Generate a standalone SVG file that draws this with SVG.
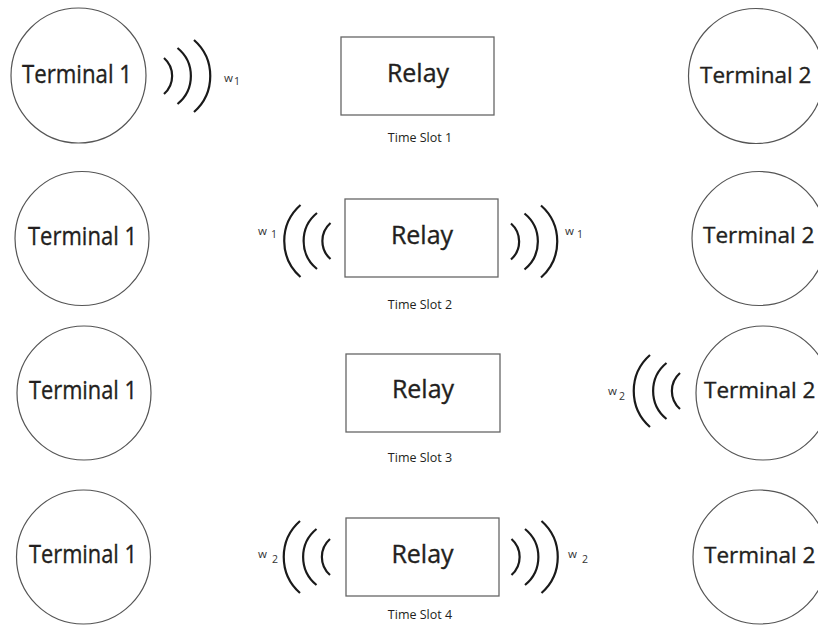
<svg xmlns="http://www.w3.org/2000/svg" xmlns:xlink="http://www.w3.org/1999/xlink" width="818" height="627" viewBox="0 0 818 627">
<style>
.term{fill:#fff;stroke:#555;stroke-width:1.2}
.box{fill:#fff;stroke:#666;stroke-width:1.3}
.big{font-family:"Open Sans","Noto Sans",sans-serif;font-size:25px;fill:#231f20;stroke:#231f20;stroke-width:0.35}
.t2{font-size:22.5px}
.slot{font-family:"Open Sans","Noto Sans",sans-serif;font-size:12.5px;fill:#231f20;text-anchor:middle}
.lbl{font-family:"Open Sans","Noto Sans",sans-serif;font-size:11.5px;fill:#333}
.sub{font-size:10.5px}
.wave{fill:none;stroke:#1a1a1a;stroke-width:2.2}
</style>
<defs>
<g id="waves" class="wave">
<path d="M0,-18 A24,24 0 0 1 0,18"/>
<path d="M13.5,-28 A36,36 0 0 1 13.5,28"/>
<path d="M30,-36 A48,48 0 0 1 30,36"/>
</g>
</defs>
<rect width="818" height="627" fill="#fff"/>

<!-- Row 1 -->
<g id="t1-slot1"><circle class="term" cx="78.5" cy="75.5" r="67.5"/><text class="big" x="22" y="83" textLength="110" lengthAdjust="spacingAndGlyphs">Terminal 1</text></g>
<g id="relay-slot1"><rect class="box" x="341" y="37" width="153" height="78"/><text class="big" x="418" y="82" text-anchor="middle">Relay</text><text class="slot" x="420" y="142">Time Slot 1</text></g>
<g id="t2-slot1"><circle class="term" cx="756" cy="76" r="67.5"/><text class="big t2" x="700" y="83">Terminal 2</text></g>

<!-- Row 2 -->
<g id="t1-slot2"><circle class="term" cx="82" cy="238.5" r="67"/><text class="big" x="28" y="245" textLength="109" lengthAdjust="spacingAndGlyphs">Terminal 1</text></g>
<g id="relay-slot2"><rect class="box" x="345" y="199" width="153" height="78"/><text class="big" x="422" y="244" text-anchor="middle">Relay</text><text class="slot" x="420" y="309">Time Slot 2</text></g>
<g id="t2-slot2"><circle class="term" cx="759" cy="238.5" r="67"/><text class="big t2" x="703" y="243">Terminal 2</text></g>

<!-- Row 3 -->
<g id="t1-slot3"><circle class="term" cx="84" cy="393" r="67"/><text class="big" x="29" y="399" textLength="108" lengthAdjust="spacingAndGlyphs">Terminal 1</text></g>
<g id="relay-slot3"><rect class="box" x="346" y="354" width="154" height="78"/><text class="big" x="423" y="398" text-anchor="middle">Relay</text><text class="slot" x="420" y="462">Time Slot 3</text></g>
<g id="t2-slot3"><circle class="term" cx="763" cy="393" r="67"/><text class="big t2" x="704" y="398">Terminal 2</text></g>

<!-- Row 4 -->
<g id="t1-slot4"><circle class="term" cx="83.5" cy="557" r="67"/><text class="big" x="29" y="563" textLength="108" lengthAdjust="spacingAndGlyphs">Terminal 1</text></g>
<g id="relay-slot4"><rect class="box" x="346" y="518" width="153" height="78"/><text class="big" x="422.5" y="563" text-anchor="middle">Relay</text><text class="slot" x="420" y="619">Time Slot 4</text></g>
<g id="t2-slot4"><circle class="term" cx="760" cy="557" r="67"/><text class="big t2" x="704" y="563">Terminal 2</text></g>

<g id="connectors">
<use href="#waves" xlink:href="#waves" transform="translate(164,76)"/>
<use href="#waves" xlink:href="#waves" transform="translate(330.5,241) scale(-1,1)"/>
<use href="#waves" xlink:href="#waves" transform="translate(511,241.5)"/>
<use href="#waves" xlink:href="#waves" transform="translate(680,391) scale(-1,1)"/>
<use href="#waves" xlink:href="#waves" transform="translate(330,557) scale(-1,1)"/>
<use href="#waves" xlink:href="#waves" transform="translate(511.5,557)"/>
</g>

<g id="labels">
<text class="lbl" x="224" y="82">w<tspan class="sub" x="234" y="85">1</tspan></text>
<text class="lbl" x="258" y="235">w<tspan class="sub" x="271" y="238">1</tspan></text>
<text class="lbl" x="565" y="235">w<tspan class="sub" x="577" y="238">1</tspan></text>
<text class="lbl" x="608" y="395">w<tspan class="sub" x="619" y="400">2</tspan></text>
<text class="lbl" x="258" y="558">w<tspan class="sub" x="272" y="563">2</tspan></text>
<text class="lbl" x="568" y="558">w<tspan class="sub" x="582" y="563">2</tspan></text>
</g>
</svg>
